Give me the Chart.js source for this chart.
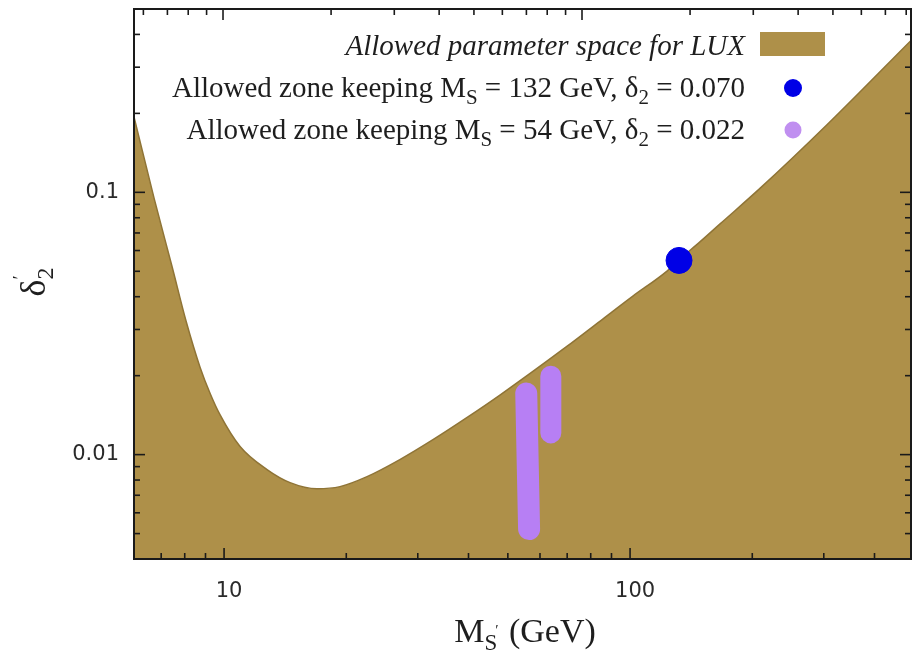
<!DOCTYPE html>
<html>
<head>
<meta charset="utf-8">
<title>Allowed parameter space for LUX</title>
<script src="https://cdn.jsdelivr.net/npm/chart.js@4.4.1/dist/chart.umd.min.js"></script>
<style>
    html, body { margin: 0; padding: 0; background: #ffffff; }
    #wrap { width: 912px; height: 664px; }
</style>
</head>
<body>
<div id="wrap"><canvas id="luxChart" width="912" height="664"></canvas></div>
<script>
// Boundary of the LUX allowed region (mass in GeV, delta'_2)
const boundaryMass = [6.0, 6.73, 7.45, 8.06, 8.73, 9.24, 9.77, 10.95, 12.76, 14.54, 16.95, 19.3, 22.5, 27.1, 32.7, 39.7, 47.9, 70.0, 84.4, 101.6, 123.3, 132.7, 148.6, 166.6, 208.9, 305.5, 495];
const boundaryDelta = [0.194, 0.0944, 0.0519, 0.0323, 0.0215, 0.0171, 0.0142, 0.01074, 0.00877, 0.00782, 0.00741, 0.00755, 0.00824, 0.00957, 0.0114, 0.01386, 0.0169, 0.0259, 0.0323, 0.0402, 0.0501, 0.0557, 0.0647, 0.0758, 0.1035, 0.181, 0.383];

// Point kept at M_S = 132 GeV
const heavyMass = [132];
const heavyDelta = [0.055];

// Two strips kept at M_S = 54 GeV
const lightStripA_mass = [55.5, 56.4];
const lightStripA_delta = [0.0171, 0.0052];
const lightStripB_mass = [63.8, 63.8];
const lightStripB_delta = [0.0199, 0.0121];

// Axis ranges and ticks
const xMin = 6, xMax = 492;
const yMin = 0.004, yMax = 0.5;
const xTopMin = 5.65, xTopMax = 825;
const xMajorTicks = [10, 100];
const xMinorTicks = [7, 8, 9, 20, 30, 40, 50, 60, 70, 80, 90, 200, 300, 400];
const xTopMinorTicks = [6, 7, 8, 9, 20, 30, 40, 50, 60, 70, 80, 90, 200, 300, 400, 500, 600, 700, 800];
const yMajorTicks = [0.01, 0.1];
const yMinorTicks = [0.005, 0.006, 0.007, 0.008, 0.009, 0.02, 0.03, 0.04, 0.05, 0.06, 0.07, 0.08, 0.09, 0.2, 0.3, 0.4, 0.5];

const fillColor = '#ae9049';
const blueColor = '#0000e6';
const purpleColor = '#b77ff4';

const serif = '"Liberation Serif", "Times New Roman", serif';

// Function to draw a run of text pieces, each with its own font and shift
function drawRuns(ctx, runs, x, y, align) {
    let total = 0;
    runs.forEach(r => {
        ctx.font = r.font;
        if (r.advance !== false) total += ctx.measureText(r.text).width;
    });
    let cx = x;
    if (align === 'right') cx = x - total;
    if (align === 'center') cx = x - total / 2;
    runs.forEach(r => {
        ctx.font = r.font;
        ctx.fillText(r.text, cx + (r.dx || 0), y + (r.dy || 0));
        if (r.advance !== false) cx += ctx.measureText(r.text).width;
    });
}

function zoneRuns(mass, delta) {
    const f = '29px ' + serif;
    const s = '21px ' + serif;
    return [
        { text: 'Allowed zone keeping M', font: f },
        { text: 'S', font: s, dy: 7 },
        { text: ' = ' + mass + ' GeV, \u03b4', font: f },
        { text: '2', font: s, dy: 7 },
        { text: ' = ' + delta, font: f }
    ];
}

// Function to draw the frame, inward ticks, legend and axis titles
const framePlugin = {
    id: 'frame',
    afterDraw(chart) {
        const ctx = chart.ctx;
        const area = chart.chartArea;
        const xs = chart.scales.x;
        const xt = chart.scales.xTop;
        const ys = chart.scales.y;

        ctx.save();
        ctx.strokeStyle = '#1a1a1a';
        ctx.lineWidth = 1.6;

        const tick = (x1, y1, x2, y2) => {
            ctx.beginPath();
            ctx.moveTo(x1, y1);
            ctx.lineTo(x2, y2);
            ctx.stroke();
        };

        xMajorTicks.forEach(v => {
            const px = xs.getPixelForValue(v);
            tick(px, area.bottom, px, area.bottom - 11);
            const pt = xt.getPixelForValue(v);
            tick(pt, area.top, pt, area.top + 11);
        });
        xMinorTicks.forEach(v => {
            const px = xs.getPixelForValue(v);
            tick(px, area.bottom, px, area.bottom - 6);
        });
        xTopMinorTicks.forEach(v => {
            const pt = xt.getPixelForValue(v);
            tick(pt, area.top, pt, area.top + 6);
        });
        yMajorTicks.forEach(v => {
            const py = ys.getPixelForValue(v);
            tick(area.left, py, area.left + 11, py);
            tick(area.right, py, area.right - 11, py);
        });
        yMinorTicks.forEach(v => {
            const py = ys.getPixelForValue(v);
            tick(area.left, py, area.left + 6, py);
            tick(area.right, py, area.right - 6, py);
        });

        ctx.lineWidth = 2;
        ctx.strokeRect(area.left, area.top, area.right - area.left, area.bottom - area.top);

        // legend
        ctx.fillStyle = '#1e1e1e';
        ctx.textBaseline = 'alphabetic';
        drawRuns(ctx, [{ text: 'Allowed parameter space for LUX', font: 'italic 29px ' + serif }], 745, 55, 'right');
        drawRuns(ctx, zoneRuns('132', '0.070'), 745, 97, 'right');
        drawRuns(ctx, zoneRuns('54', '0.022'), 745, 139, 'right');

        ctx.fillStyle = fillColor;
        ctx.fillRect(760, 32, 65, 24);
        ctx.fillStyle = blueColor;
        ctx.beginPath();
        ctx.arc(793, 88, 9, 0, Math.PI * 2);
        ctx.fill();
        ctx.fillStyle = '#c08ff0';
        ctx.beginPath();
        ctx.arc(793, 130, 8.5, 0, Math.PI * 2);
        ctx.fill();

        // x title
        ctx.fillStyle = '#1e1e1e';
        drawRuns(ctx, [
            { text: 'M', font: '34px ' + serif },
            { text: 'S', font: '23px ' + serif, dy: 8 },
            { text: '\u2032', font: '15px ' + serif, dy: -7, dx: -2 },
            { text: ' (GeV)', font: '34px ' + serif }
        ], 525, 642, 'center');

        // y title, rotated
        ctx.save();
        ctx.translate(45, 282);
        ctx.rotate(-Math.PI / 2);
        drawRuns(ctx, [
            { text: '\u03b4', font: '36px ' + serif },
            { text: '\u2032', font: '19px ' + serif, dy: -19, advance: false },
            { text: '2', font: '24px ' + serif, dy: 8 }
        ], 0, 0, 'center');
        ctx.restore();

        ctx.restore();
    }
};

// Function to create the chart
function createChart() {
    const ctx = document.getElementById('luxChart').getContext('2d');

    const toPoints = (xs, ys) => xs.map((x, i) => ({ x: x, y: ys[i] }));

    new Chart(ctx, {
        type: 'line',
        data: {
            datasets: [
                {
                    label: 'Allowed zone keeping M_S = 132 GeV',
                    type: 'scatter',
                    data: toPoints(heavyMass, heavyDelta),
                    backgroundColor: blueColor,
                    borderColor: blueColor,
                    pointRadius: 13,
                    order: 0
                },
                {
                    label: 'Allowed zone keeping M_S = 54 GeV (a)',
                    data: toPoints(lightStripA_mass, lightStripA_delta),
                    borderColor: purpleColor,
                    borderWidth: 22,
                    borderCapStyle: 'round',
                    pointRadius: 0,
                    fill: false,
                    order: 1
                },
                {
                    label: 'Allowed zone keeping M_S = 54 GeV (b)',
                    data: toPoints(lightStripB_mass, lightStripB_delta),
                    borderColor: purpleColor,
                    borderWidth: 21,
                    borderCapStyle: 'round',
                    pointRadius: 0,
                    fill: false,
                    order: 1
                },
                {
                    label: 'Allowed parameter space for LUX',
                    data: toPoints(boundaryMass, boundaryDelta),
                    borderColor: '#8f7436',
                    borderWidth: 1.5,
                    backgroundColor: fillColor,
                    fill: 'start',
                    pointRadius: 0,
                    cubicInterpolationMode: 'monotone',
                    order: 2
                }
            ]
        },
        options: {
            responsive: false,
            animation: false,
            devicePixelRatio: 1,
            layout: { autoPadding: false, padding: { left: 0, top: 9, right: 1, bottom: 0 } },
            plugins: {
                legend: { display: false },
                tooltip: { enabled: false }
            },
            scales: {
                x: {
                    type: 'logarithmic',
                    position: 'bottom',
                    min: xMin,
                    max: xMax,
                    afterBuildTicks: s => { s.ticks = xMajorTicks.map(v => ({ value: v })); },
                    afterFit: s => { s.height = 105; s.paddingLeft = 0; s.paddingRight = 0; },
                    grid: { display: false, drawTicks: false },
                    border: { display: false },
                    ticks: {
                        padding: 20,
                        labelOffset: 5,
                        autoSkip: false,
                        maxRotation: 0,
                        color: '#2a2a2a',
                        font: { family: '"DejaVu Sans", sans-serif', size: 21 },
                        callback: v => String(v)
                    }
                },
                xTop: {
                    type: 'logarithmic',
                    position: 'top',
                    min: xTopMin,
                    max: xTopMax,
                    afterFit: s => { s.height = 0; s.paddingLeft = 0; s.paddingRight = 0; },
                    grid: { display: false, drawTicks: false },
                    border: { display: false },
                    ticks: { display: false }
                },
                y: {
                    type: 'logarithmic',
                    min: yMin,
                    max: yMax,
                    afterBuildTicks: s => { s.ticks = yMajorTicks.map(v => ({ value: v })); },
                    afterFit: s => { s.width = 134; s.paddingTop = 0; s.paddingBottom = 0; },
                    grid: { display: false, drawTicks: false },
                    border: { display: false },
                    ticks: {
                        padding: 15,
                        autoSkip: false,
                        color: '#2a2a2a',
                        font: { family: '"DejaVu Sans", sans-serif', size: 21 },
                        callback: v => String(v)
                    }
                }
            }
        },
        plugins: [framePlugin]
    });
}

createChart();
</script>
</body>
</html>
